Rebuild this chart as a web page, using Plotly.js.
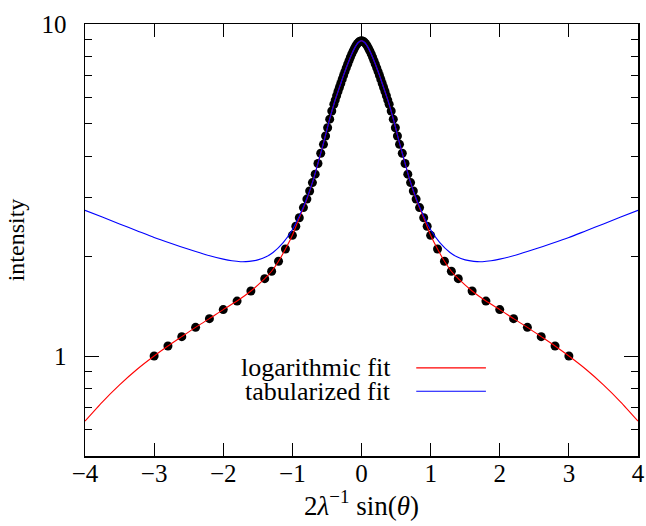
<!DOCTYPE html>
<html>
<head>
<meta charset="utf-8">
<script src="https://cdn.plot.ly/plotly-3.0.1.min.js"></script>
<style>html,body{margin:0;padding:0;background:#fff}#chart{width:646px;height:526px}</style>
</head>
<body>
<div id="chart"></div>
<script>
// measured data points
var dotX = [-3.0,-2.8,-2.6,-2.4,-2.2,-2.0,-1.8,-1.6,-1.4,-1.3,-1.2,-1.1,-1.0,-0.95,-0.9,-0.84,-0.79,-0.75,-0.71,-0.67,-0.63,-0.59,-0.55,-0.52,-0.49,-0.46,-0.43,-0.40,-0.38,-0.36,-0.34,-0.32,-0.30,-0.28,-0.26,-0.24,-0.22,-0.20,-0.18,-0.16,-0.14,-0.12,-0.10,-0.08,-0.06,-0.04,-0.02,0.0,
  0.02,0.04,0.06,0.08,0.10,0.12,0.14,0.16,0.18,0.20,0.22,0.24,0.26,0.28,0.30,0.32,0.34,0.36,0.38,0.40,0.43,0.46,0.49,0.52,0.55,0.59,0.63,0.67,0.71,0.75,0.79,0.84,0.9,0.95,1.0,1.1,1.2,1.3,1.4,1.6,1.8,2.0,2.2,2.4,2.6,2.8,3.0];
var dotY = [1.0,1.072,1.144,1.22,1.296,1.38,1.464,1.57,1.71,1.80,1.93,2.10,2.31,2.46,2.61,2.80,2.97,3.14,3.33,3.53,3.80,4.08,4.34,4.60,4.87,5.17,5.47,5.73,5.90,6.08,6.26,6.44,6.62,6.81,7.00,7.19,7.38,7.57,7.76,7.95,8.13,8.30,8.46,8.61,8.73,8.82,8.88,8.90,
  8.88,8.82,8.73,8.61,8.46,8.30,8.13,7.95,7.76,7.57,7.38,7.19,7.00,6.81,6.62,6.44,6.26,6.08,5.90,5.73,5.47,5.17,4.87,4.60,4.34,4.08,3.80,3.53,3.33,3.14,2.97,2.80,2.61,2.46,2.31,2.10,1.93,1.80,1.71,1.57,1.464,1.38,1.296,1.22,1.144,1.072,1.0];

// logarithmic fit curve
var logFitX = [-4.0,-3.75,-3.5,-3.25,-3.0,-2.8,-2.6,-2.4,-2.2,-2.0,-1.8,-1.6,-1.4,-1.3,-1.2,-1.1,-1.0,-0.9,-0.8,-0.7,-0.6,-0.55,-0.5,-0.45,-0.4,-0.35,-0.3,-0.25,-0.2,-0.15,-0.1,-0.05,0.0,
  0.05,0.1,0.15,0.2,0.25,0.3,0.35,0.4,0.45,0.5,0.55,0.6,0.7,0.8,0.9,1.0,1.1,1.2,1.3,1.4,1.6,1.8,2.0,2.2,2.4,2.6,2.8,3.0,3.25,3.5,3.75,4.0];
var logFitY = [0.637,0.727,0.819,0.911,1.0,1.072,1.144,1.22,1.296,1.38,1.464,1.57,1.71,1.80,1.93,2.10,2.31,2.61,2.93,3.38,4.01,4.38,4.81,5.27,5.73,6.17,6.62,7.10,7.57,8.04,8.46,8.78,8.90,
  8.78,8.46,8.04,7.57,7.10,6.62,6.17,5.73,5.27,4.81,4.38,4.01,3.38,2.93,2.61,2.31,2.10,1.93,1.80,1.71,1.57,1.464,1.38,1.296,1.22,1.144,1.072,1.0,0.911,0.819,0.727,0.637];

// tabularized fit curve
var tabFitX = [-4.0,-3.75,-3.5,-3.25,-3.0,-2.75,-2.5,-2.25,-2.0,-1.875,-1.75,-1.625,-1.5,-1.38,-1.28,-1.13,-1.0,-0.9,-0.8,-0.7,-0.6,-0.55,-0.5,-0.45,-0.4,-0.35,-0.3,-0.25,-0.2,-0.15,-0.1,-0.05,0.0,
  0.05,0.1,0.15,0.2,0.25,0.3,0.35,0.4,0.45,0.5,0.55,0.6,0.7,0.8,0.9,1.0,1.13,1.28,1.38,1.5,1.625,1.75,1.875,2.0,2.25,2.5,2.75,3.0,3.25,3.5,3.75,4.0];
var tabFitY = [2.747,2.623,2.50,2.385,2.274,2.181,2.096,2.018,1.958,1.936,1.924,1.928,1.948,1.99,2.05,2.20,2.40,2.64,2.95,3.38,4.01,4.38,4.81,5.27,5.73,6.17,6.62,7.10,7.57,8.04,8.46,8.78,8.90,
  8.78,8.46,8.04,7.57,7.10,6.62,6.17,5.73,5.27,4.81,4.38,4.01,3.38,2.95,2.64,2.40,2.20,2.05,1.99,1.948,1.928,1.924,1.936,1.958,2.018,2.096,2.181,2.274,2.385,2.50,2.623,2.747];

var xTickVals = [-4,-3,-2,-1,0,1,2,3,4];
var yTickVals = [1,10];
var yTickText = ['1','10'];
var yMinorVals = [0.6,0.7,0.8,0.9,2,3,4,5,6,7,8,9];
var legendLabels = ['logarithmic fit','tabularized fit'];
var colors = {log:'#ff0000', tab:'#0000ff'};

var FONT = 'Liberation Serif, Times New Roman, serif';

var traces = [
  {x: dotX, y: dotY, type:'scatter', mode:'markers', marker:{color:'#000', size:9}, hoverinfo:'skip'},
  {x: logFitX, y: logFitY, type:'scatter', mode:'lines', line:{color:colors.log, width:1.1, shape:'spline', smoothing:0.6}},
  {x: tabFitX, y: tabFitY, type:'scatter', mode:'lines', line:{color:colors.tab, width:1.1, shape:'spline', smoothing:0.6}}
];

var layout = {
  width:646, height:526,
  margin:{l:85, r:8, t:24, b:70},
  paper_bgcolor:'#fff', plot_bgcolor:'#fff',
  showlegend:false,
  font:{family:FONT, size:25, color:'#000'},
  xaxis:{
    range:[-4,4], tickvals:xTickVals, ticks:'inside', ticklen:13, tickwidth:1, tickcolor:'#000',
    showline:true, linecolor:'#000', linewidth:1.5, mirror:'ticks', showgrid:false, zeroline:false,
    ticklabelstandoff:-6,
    tickfont:{family:FONT, size:25},
    title:{text:'2<i>λ</i><sup>−1</sup> sin(<i>θ</i>)', font:{family:FONT, size:27}, standoff:4}
  },
  yaxis:{
    type:'log', range:[Math.log10(0.5), 1], tickvals:yTickVals, ticktext:yTickText,
    ticks:'inside', ticklen:14, tickwidth:1, tickcolor:'#000',
    minor:{tickvals:yMinorVals, ticks:'inside', ticklen:7, tickwidth:1, tickcolor:'#000', showgrid:false},
    showline:true, linecolor:'#000', linewidth:1.5, mirror:'ticks', showgrid:false, zeroline:false,
    ticklabelstandoff:12,
    tickfont:{family:FONT, size:25},
    title:{text:'intensity', font:{family:FONT, size:24}, standoff:10}
  },
  annotations:[
    {xref:'paper', yref:'paper', x:0.557, y:0.204, xanchor:'right', yanchor:'middle', text:legendLabels[0], showarrow:false, font:{family:FONT, size:26}},
    {xref:'paper', yref:'paper', x:0.557, y:0.150, xanchor:'right', yanchor:'middle', text:legendLabels[1], showarrow:false, font:{family:FONT, size:26}}
  ],
  shapes:[
    {type:'line', xref:'paper', yref:'paper', x0:0.599, x1:0.725, y0:0.204, y1:0.204, line:{color:colors.log, width:1.1}},
    {type:'line', xref:'paper', yref:'paper', x0:0.599, x1:0.725, y0:0.150, y1:0.150, line:{color:colors.tab, width:1.1}}
  ]
};

Plotly.newPlot('chart', traces, layout, {staticPlot:true, displayModeBar:false});
</script>
</body>
</html>
